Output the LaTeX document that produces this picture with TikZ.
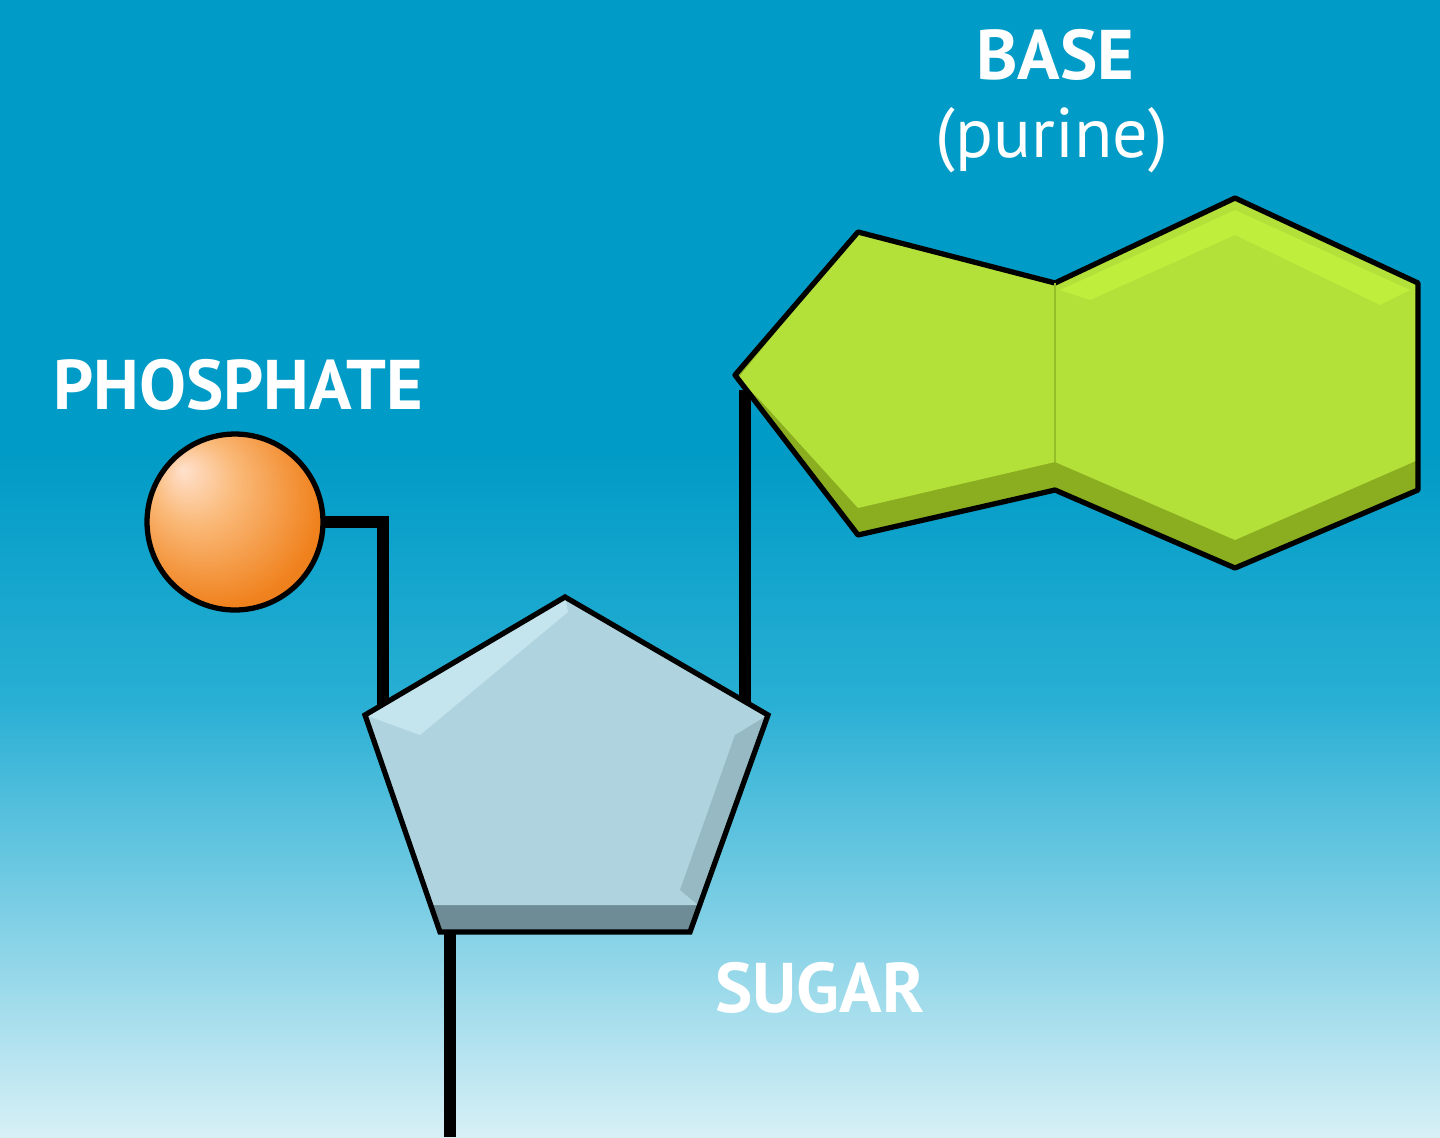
\documentclass[tikz,border=0pt]{standalone}
\usepackage{fontspec}
\setmainfont{PT Sans}
\definecolor{bgA}{RGB}{0,155,198}
\definecolor{bgB}{RGB}{40,175,212}
\definecolor{bgC}{RGB}{215,240,246}
\definecolor{orbA}{RGB}{255,225,205}
\definecolor{orbB}{RGB}{250,185,120}
\definecolor{orbC}{RGB}{240,130,30}
\definecolor{orbD}{RGB}{205,100,10}
\pgfdeclareradialshading{orb}{\pgfpoint{-15bp}{15bp}}{
  color(0bp)=(orbA); color(12bp)=(orbB); color(30bp)=(orbC); color(50bp)=(orbD)}
\begin{document}
\begin{tikzpicture}[x=0.02cm,y=-0.02cm,
  lbl/.style={text=white,font=\fontsize{40}{44}\selectfont\bfseries,inner sep=0},
  bond/.style={line width=7pt,black}]
\useasboundingbox (0,0) rectangle (1440,1137);
\fill[bgA] (0,0) rectangle (1440,451);
\shade[top color=bgA,bottom color=bgB] (0,450) rectangle (1440,701);
\shade[top color=bgB,bottom color=bgC] (0,700) rectangle (1440,1137);
% bonds
\coordinate (p1) at (323,522); \coordinate (p2) at (383,522); \coordinate (p3) at (383,720);
\draw[bond] (p1) -- (p2) -- (p3);
\coordinate (b1) at (745,390); \coordinate (b2) at (745,705);
\draw[bond] (b1) -- (b2);
\coordinate (s1) at (450,930); \coordinate (s2) at (450,1137);
\draw[bond] (s1) -- (s2);
% sugar
\fill[fill={rgb,255:red,110;green,140;blue,150}] (365,715)--(565,597)--(768,715)--(690,932)--(440,932)--cycle;
\fill[fill={rgb,255:red,176;green,212;blue,223}] (365,715)--(565,597)--(768,715)--(698,905)--(432,905)--cycle;
\fill[fill={rgb,255:red,196;green,228;blue,238}] (365,715)--(565,597)--(568,612)--(420,735)--cycle;
\fill[fill={rgb,255:red,150;green,185;blue,196}] (768,715)--(698,905)--(680,890)--(735,735)--cycle;
\draw[line width=3pt] (365,715)--(565,597)--(768,715)--(690,932)--(440,932)--cycle;
% purine
\fill[fill={rgb,255:red,138;green,174;blue,32}] (735,375)--(858,232)--(1055,283)--(1235,198)--(1418,283)--(1418,490)--(1235,568)--(1055,490)--(858,535)--cycle;
\fill[fill={rgb,255:red,180;green,224;blue,58}] (738,378)--(858,232)--(1055,283)--(1235,198)--(1418,283)--(1418,460)--(1235,540)--(1055,462)--(858,508)--(760,400)--cycle;
\fill[fill={rgb,255:red,192;green,238;blue,60}] (1060,290)--(1235,210)--(1410,290)--(1380,305)--(1235,235)--(1090,300)--cycle;
\draw[line width=3pt,line join=round] (735,375)--(858,232)--(1055,283)--(1235,198)--(1418,283)--(1418,490)--(1235,568)--(1055,490)--(858,535)--cycle;
\draw[line width=1pt,draw={rgb,255:red,150;green,190;blue,40}] (1055,283)--(1055,462);
% phosphate
\node[circle,draw=black,line width=3pt,minimum size=3.52cm,inner sep=0,shading=orb] (phos) at (235,522) {};
% labels
\node[lbl] (tp) at (238,385) {PHOSPHATE};
\node[lbl] (tb) at (1055,55) {BASE};
\node[lbl,font=\fontsize{40}{44}\selectfont] (tpu) at (1052,140) {(purine)};
\node[lbl] (ts) at (820,988) {SUGAR};
\end{tikzpicture}
\end{document}
